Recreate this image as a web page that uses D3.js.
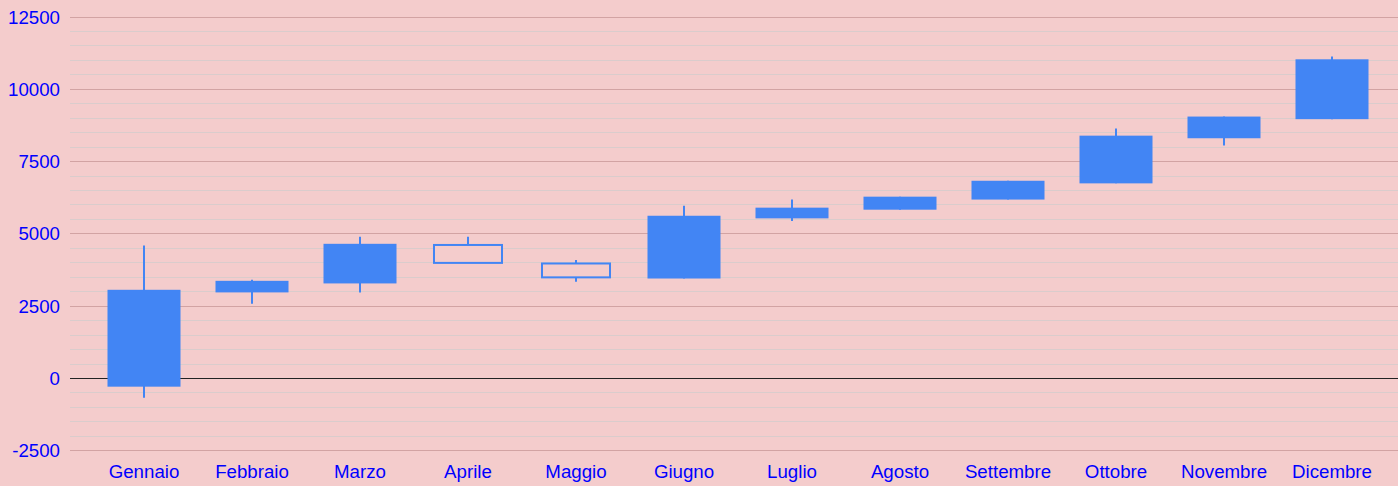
<!DOCTYPE html>
<html>
<head>
<meta charset="utf-8">
<script src="https://cdn.jsdelivr.net/npm/d3@7"></script>
<style>
  html, body { margin: 0; padding: 0; background: #f4cccc; }
  svg { display: block; }
</style>
</head>
<body>
<svg id="chart" width="1398" height="486"></svg>
<script>
const categories = ["Gennaio","Febbraio","Marzo","Aprile","Maggio","Giugno","Luglio","Agosto","Settembre","Ottobre","Novembre","Dicembre"];
const openVals  = [3050, 3360, 4640, 3980, 3480, 5610, 5890, 6270, 6820, 8380, 9040, 11020];
const closeVals = [-300, 2960, 3270, 4600, 3960, 3440, 5520, 5820, 6170, 6730, 8290, 8950];
const lowVals   = [-680, 2570, 2960, 3980, 3330, 3440, 5430, 5820, 6170, 6730, 8040, 8950];
const highVals  = [4580, 3400, 4880, 4880, 4080, 5960, 6170, 6270, 6820, 8630, 9040, 11120];
const majorTicks = [-2500, 0, 2500, 5000, 7500, 10000, 12500];

const W = 1398, H = 486;
const svg = d3.select("#chart");
svg.append("rect").attr("width", W).attr("height", H).attr("fill", "#f4cccc");

const x = d3.scaleBand().domain(categories).range([90, 1386]).paddingInner(0.324).paddingOuter(0.162);
const y = d3.scaleLinear().domain([-2500, 12500]).range([450.3, 16.5]);

const gridLeft = 70, gridRight = 1398;

// minor gridlines
const minorTicks = d3.range(-2500, 12501, 500).filter(v => v % 2500 !== 0);
svg.append("g").selectAll("line").data(minorTicks).join("line")
  .attr("x1", gridLeft).attr("x2", gridRight)
  .attr("y1", d => Math.round(y(d)) + 0.5).attr("y2", d => Math.round(y(d)) + 0.5)
  .attr("stroke", "#dacccc").attr("stroke-width", 1);

// major gridlines
svg.append("g").selectAll("line").data(majorTicks).join("line")
  .attr("x1", gridLeft).attr("x2", gridRight)
  .attr("y1", d => Math.round(y(d)) + 0.5).attr("y2", d => Math.round(y(d)) + 0.5)
  .attr("stroke", d => d === 0 ? "#222222" : "#d2a3a3").attr("stroke-width", 1);

// y axis labels
const yAxis = d3.axisLeft(y).tickValues(majorTicks).tickSize(0).tickPadding(0).tickFormat(d => String(d));
const gy = svg.append("g").attr("transform", "translate(60,0)").call(yAxis);
gy.select(".domain").remove();
gy.selectAll("text").attr("fill", "#0000ff").attr("font-family", "'Liberation Sans', Arial, sans-serif").attr("font-size", 18.7).attr("dy", "0.35em");

// x axis labels
const xAxis = d3.axisBottom(x).tickSize(0).tickPadding(0);
const gx = svg.append("g").attr("transform", "translate(0,478)").call(xAxis);
gx.select(".domain").remove();
gx.selectAll("text").attr("fill", "#0000ff").attr("font-family", "'Liberation Sans', Arial, sans-serif").attr("font-size", 18.7).attr("dy", 0);

const color = "#4285f4";
const data = categories.map((c, i) => ({c, o: openVals[i], cl: closeVals[i], lo: lowVals[i], hi: highVals[i]}));

const g = svg.append("g");
// wicks
g.selectAll("line.wick").data(data).join("line").attr("class", "wick")
  .attr("x1", d => x(d.c) + x.bandwidth() / 2).attr("x2", d => x(d.c) + x.bandwidth() / 2)
  .attr("y1", d => y(d.hi)).attr("y2", d => y(d.lo))
  .attr("stroke", color).attr("stroke-width", 2);

// bodies
g.selectAll("rect.body").data(data).join("rect").attr("class", "body")
  .each(function(d) {
    const top = y(Math.max(d.o, d.cl)), bot = y(Math.min(d.o, d.cl));
    const sel = d3.select(this);
    if (d.cl > d.o) {
      sel.attr("x", x(d.c) + 2.5).attr("width", x.bandwidth() - 5)
        .attr("y", top).attr("height", bot - top)
        .attr("fill", "#f4cccc").attr("stroke", color).attr("stroke-width", 2);
    } else {
      sel.attr("x", x(d.c)).attr("width", x.bandwidth())
        .attr("y", top).attr("height", bot - top)
        .attr("fill", color);
    }
  });
</script>
</body>
</html>
